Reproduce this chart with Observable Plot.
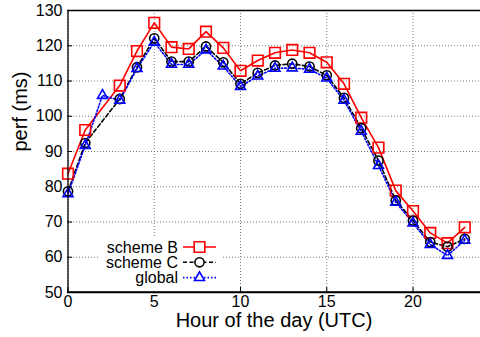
<!DOCTYPE html>
<html>
<head>
<meta charset="utf-8">
<script src="https://cdn.jsdelivr.net/npm/d3@7"></script>
<script src="https://cdn.jsdelivr.net/npm/@observablehq/plot@0.6"></script>
<style>
  html, body { margin: 0; padding: 0; background: #fff; }
  #chart svg { display: block; font-family: "Liberation Sans", Arial, sans-serif; }
</style>
</head>
<body>
<div id="chart"></div>
<script>
const hours = [0,1,2,3,4,5,6,7,8,9,10,11,12,13,14,15,16,17,18,19,20,21,22,23];
const schemeB = [83.7, 96.1, null, 108.7, 118.5, 126.5, 119.6, 119.1, 124.0, 119.4, 112.9, 115.8, 118.0, 118.8, 118.0, 115.3, 109.2, 99.6, 91.1, 78.9, 73.1, 66.9, 64.0, 68.5];
const schemeC = [78.7, 92.4, null, 104.9, 113.9, 122.1, 115.5, 115.5, 119.8, 115.3, 109.2, 112.3, 114.4, 114.9, 114.1, 111.6, 105.2, 96.6, 87.4, 76.1, 70.4, 64.3, 63.0, 65.2];
const globalPerf = [78.0, 91.7, 105.9, 104.5, 113.5, 121.0, 114.7, 114.7, 118.8, 114.2, 108.4, 111.4, 113.6, 113.7, 113.3, 110.8, 104.5, 95.7, 86.0, 75.6, 69.7, 63.6, 60.5, 64.8];
const seriesNames = ["scheme B", "scheme C", "global"];
const xTicks = [0, 5, 10, 15, 20];
const yTicks = [50, 60, 70, 80, 90, 100, 110, 120, 130];
const xTitle = "Hour of the day (UTC)";
const yTitle = "perf (ms)";

const table = (vals) => hours.map((h, i) => ({h, v: vals[i]})).filter(d => d.v != null);
const dB = table(schemeB), dC = table(schemeC), dG = table(globalPerf);

const styles = [
  {color: "#ff0000", dash: null, symbol: "square", r: 6.0},
  {color: "#000000", dash: "4,2.5", symbol: "circle", r: 4.6},
  {color: "#0000ff", dash: "1.5,2", symbol: "triangle", r: 3.7}
];
const datasets = [dB, dC, dG];
const xMin = 0, yMin = yTicks[0], yMax = yTicks[yTicks.length - 1];

const marks = [
  Plot.gridX(xTicks, {stroke: "#777", strokeOpacity: 1, strokeDasharray: "1,2"}),
  Plot.gridY(yTicks, {stroke: "#777", strokeOpacity: 1, strokeDasharray: "1,2"}),
  Plot.axisX(xTicks, {tickSize: 0, tickPadding: 3, fontSize: 16, label: null, color: "#000"}),
  Plot.axisY(yTicks, {tickSize: 0, tickPadding: 5, fontSize: 16, label: null, color: "#000"}),
  Plot.axisX(xTicks, {tickSize: -5, fill: "none", stroke: "#000", label: null}),
  Plot.axisY(yTicks, {tickSize: -5, fill: "none", stroke: "#000", label: null}),
];
datasets.forEach((d, i) => {
  const s = styles[i];
  marks.push(Plot.line(d, {x: "h", y: "v", stroke: s.color, strokeWidth: 1.6, strokeDasharray: s.dash}));
});
datasets.forEach((d, i) => {
  const s = styles[i];
  marks.push(Plot.dot(d, {x: "h", y: "v", stroke: s.color, strokeWidth: 1.6, fill: "none", symbol: s.symbol, r: s.r}));
});
// Border: top, bottom and left (the right edge falls outside the picture)
marks.push(Plot.ruleY([yMin, yMax], {stroke: "#000", strokeWidth: 1.3}));
marks.push(Plot.ruleX([xMin], {stroke: "#000", strokeWidth: 1.3}));
marks.push(Plot.text([xTitle], {frameAnchor: "bottom", dy: 34.5, fontSize: 20, fill: "#000"}));
marks.push(Plot.text([yTitle], {frameAnchor: "left", dx: -47, rotate: -90, fontSize: 20, fill: "#000"}));

const chart = Plot.plot({
  width: 480,
  height: 337,
  marginLeft: 67,
  marginTop: 10,
  marginBottom: 45,
  marginRight: 0,
  style: {fontFamily: "'Liberation Sans', Arial, sans-serif", background: "#fff", overflow: "visible"},
  x: {domain: [0, 24], range: [67.5, 481.5]},
  y: {domain: [50, 130], range: [292, 10]},
  marks
});
document.getElementById("chart").appendChild(chart);

// Legend inside the plot area (bottom-left)
const svg = d3.select(chart);
const lg = svg.append("g");
lg.append("rect").attr("x", 100).attr("y", 238).attr("width", 122).attr("height", 53).attr("fill", "#fff");
const rowY = [247, 262.3, 277.6];
seriesNames.forEach((name, i) => {
  const s = styles[i];
  const y = rowY[i];
  lg.append("text").attr("x", 178).attr("y", y).attr("dy", "0.35em").attr("text-anchor", "end")
    .attr("font-size", 16).attr("fill", "#000").text(name);
  lg.append("line").attr("x1", 183).attr("x2", 216).attr("y1", y).attr("y2", y)
    .attr("stroke", s.color).attr("stroke-width", 1.6).attr("stroke-dasharray", s.dash);
  const sym = {square: d3.symbolSquare, circle: d3.symbolCircle, triangle: d3.symbolTriangle}[s.symbol];
  lg.append("path").attr("d", d3.symbol(sym, Math.PI * s.r * s.r)())
    .attr("transform", `translate(199.5,${y})`)
    .attr("fill", "#fff").attr("stroke", s.color).attr("stroke-width", 1.6);
});
// Redraw the bottom border over the legend background
lg.append("line").attr("x1", 67).attr("x2", 480).attr("y1", 292).attr("y2", 292)
  .attr("stroke", "#000").attr("stroke-width", 1.3);
</script>
</body>
</html>
